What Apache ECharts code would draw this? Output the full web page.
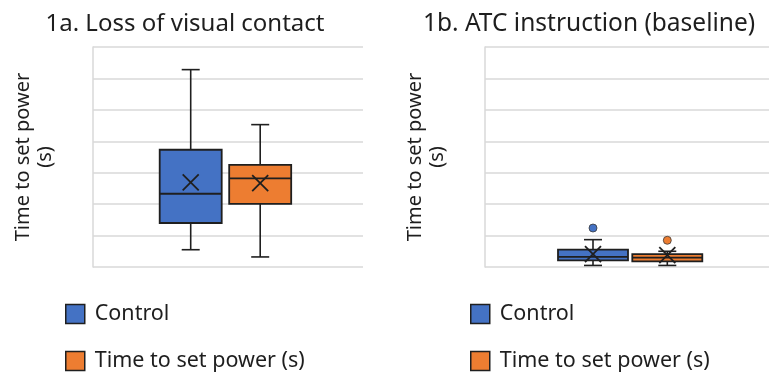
<!DOCTYPE html>
<html>
<head>
<meta charset="utf-8">
<script src="https://cdn.jsdelivr.net/npm/echarts@6/dist/echarts.min.js"></script>
<style>
  html, body { margin: 0; padding: 0; background: #fff; }
  #chart { width: 769px; height: 373px; }
</style>
</head>
<body>
<div id="chart"></div>
<script>
// Panel titles and series names
const panelTitles = ['1a. Loss of visual contact', '1b. ATC instruction (baseline)'];
const seriesNames = ['Control', 'Time to set power (s)'];
const axisTitle = 'Time to set power\n(s)';

// Box statistics per series: [min, Q1, median, Q3, max]
const lossControl = [0.55, 1.40, 2.33, 3.73, 6.28];
const lossPower   = [0.32, 2.01, 2.82, 3.25, 4.53];
const atcControl  = [0.05, 0.21, 0.32, 0.55, 0.87];
const atcPower    = [0.05, 0.18, 0.30, 0.41, 0.50];

// Means (drawn as X markers)
const lossMeans = [2.69, 2.67];
const atcMeans  = [0.41, 0.38];

// Outlier points
const lossOutliers = [[], []];
const atcOutliers  = [[1.24], [0.85]];

// Value axis range
const yMin = 0, yMax = 7, yStep = 1;

const colors = ['#4472C4', '#ED7D31'];
const edge = '#1f1f1f';
const gridColor = '#d9d9d9';
const textColor = '#1e1e1e';
const fontFamily = '"Noto Sans", "Open Sans", sans-serif';

const chart = echarts.init(document.getElementById('chart'), null, { renderer: 'canvas' });

// Draws one box with whiskers, caps, median and mean marker
function boxRenderer(offset, boxW, color) {
  return function (params, api) {
    const cx = api.coord([0, 0])[0] + offset;
    const py = k => api.coord([0, api.value(k)])[1];
    const yLo = py(1), yQ1 = py(2), yMed = py(3), yQ3 = py(4), yHi = py(5), yMean = py(6);
    const capHalf = 9, xHalf = 8;
    const line = (x1, y1, x2, y2, w) => ({
      type: 'line', shape: { x1, y1, x2, y2 },
      style: { stroke: edge, lineWidth: w || 1.6 }
    });
    return {
      type: 'group',
      children: [
        line(cx, yQ3, cx, yHi),
        line(cx, yQ1, cx, yLo),
        line(cx - capHalf, yHi, cx + capHalf, yHi),
        line(cx - capHalf, yLo, cx + capHalf, yLo),
        {
          type: 'rect',
          shape: { x: cx - boxW / 2, y: yQ3, width: boxW, height: yQ1 - yQ3 },
          style: { fill: color, stroke: edge, lineWidth: 1.8 }
        },
        line(cx - boxW / 2, yMed, cx + boxW / 2, yMed, 1.8),
        line(cx - xHalf, yMean - xHalf, cx + xHalf, yMean + xHalf, 1.8),
        line(cx - xHalf, yMean + xHalf, cx + xHalf, yMean - xHalf, 1.8)
      ]
    };
  };
}

// Draws outlier dots
function dotRenderer(offset, color) {
  return function (params, api) {
    const p = api.coord([0, api.value(1)]);
    return {
      type: 'circle',
      shape: { cx: p[0] + offset, cy: p[1], r: 4 },
      style: { fill: color, stroke: '#3a3a3a', lineWidth: 0.8 }
    };
  };
}

const panels = [
  { stats: [lossControl, lossPower], means: lossMeans, outliers: lossOutliers,
    grid: { left: 93, top: 47, width: 270, height: 220 },
    offsets: [-37.3, 32.2], boxW: 62, titleX: 180, titleSize: 24, legendX: 65 },
  { stats: [atcControl, atcPower], means: atcMeans, outliers: atcOutliers,
    grid: { left: 485, top: 47, width: 284, height: 220 },
    offsets: [-34, 40.3], boxW: 70, titleX: 584, titleSize: 24.5, legendX: 470 }
];

const option = {
  backgroundColor: '#fff',
  animation: false,
  title: panels.map((p, i) => ({
    text: panelTitles[i],
    left: p.titleX, top: 7,
    textAlign: 'center',
    textStyle: { fontFamily, fontSize: p.titleSize, fontWeight: 'normal', color: textColor }
  })),
  legend: panels.map(p => ({
    orient: 'vertical',
    left: p.legendX, top: 303,
    padding: 0,
    itemWidth: 19, itemHeight: 19, itemGap: 25,
    icon: 'rect',
    textStyle: { fontFamily, fontSize: 21.5, color: textColor, padding: [0, 0, 0, 5] },
    data: seriesNames.map((n, k) => ({
      name: n,
      itemStyle: { color: colors[k], borderColor: edge, borderWidth: 1.5 }
    }))
  })),
  grid: panels.map(p => p.grid),
  xAxis: panels.map((p, i) => ({
    type: 'category', gridIndex: i, data: [''],
    axisLine: { show: false }, axisTick: { show: false }, axisLabel: { show: false },
    splitLine: { show: false }
  })),
  yAxis: panels.map((p, i) => ({
    type: 'value', gridIndex: i, min: yMin, max: yMax, interval: yStep,
    name: axisTitle, nameLocation: 'middle', nameRotate: 90, nameGap: 37,
    nameTextStyle: { fontFamily, fontSize: 20, color: textColor, lineHeight: 22 },
    axisLine: { show: true, lineStyle: { color: gridColor, width: 1.5 } },
    axisTick: { show: false }, axisLabel: { show: false },
    splitLine: { show: true, lineStyle: { color: gridColor, width: 1.5 } }
  })),
  series: []
};

panels.forEach((p, i) => {
  p.stats.forEach((s, k) => {
    option.series.push({
      type: 'custom', name: seriesNames[k],
      xAxisIndex: i, yAxisIndex: i,
      itemStyle: { color: colors[k] },
      renderItem: boxRenderer(p.offsets[k], p.boxW, colors[k]),
      encode: { x: 0, y: [1, 2, 3, 4, 5, 6] },
      data: [[0].concat(s, [p.means[k]])]
    });
    if (p.outliers[k].length) {
      option.series.push({
        type: 'custom', name: seriesNames[k],
        xAxisIndex: i, yAxisIndex: i,
        itemStyle: { color: colors[k] },
        renderItem: dotRenderer(p.offsets[k], colors[k]),
        encode: { x: 0, y: 1 },
        data: p.outliers[k].map(v => [0, v])
      });
    }
  });
});

chart.setOption(option);
</script>
</body>
</html>
